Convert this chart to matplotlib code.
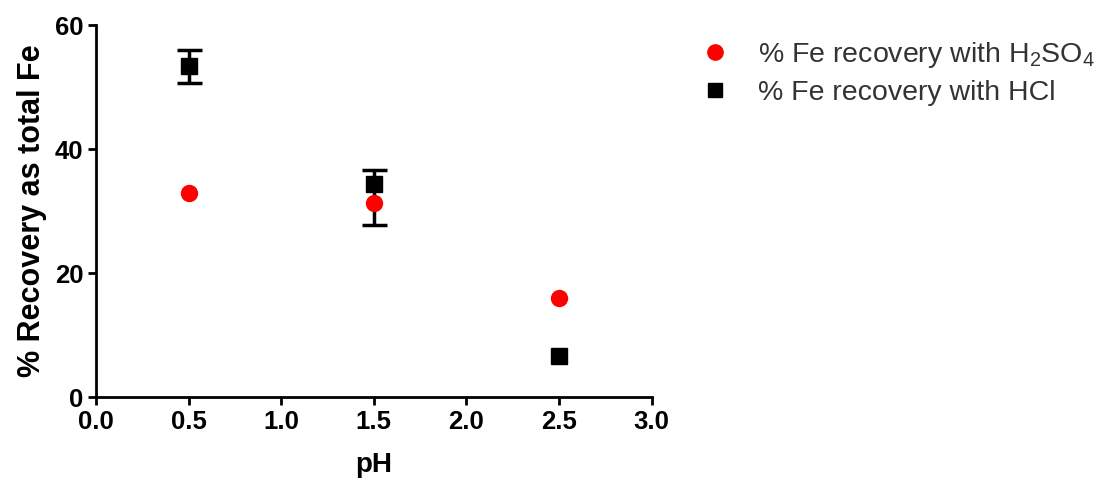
import matplotlib
matplotlib.use("Agg")
import matplotlib.pyplot as plt
from matplotlib.lines import Line2D

plt.rcParams['font.family'] = ['Liberation Sans', 'DejaVu Sans']
plt.rcParams['mathtext.fontset'] = 'custom'
plt.rcParams['mathtext.rm'] = 'Liberation Sans'
plt.rcParams['mathtext.it'] = 'Liberation Sans'

ph = [0.5, 1.5, 2.5]
h2so4 = [32.9, 31.3, 16.0]
hcl = [53.4, 34.3, 6.6]
hcl_err_lo = [2.7, 6.6, 0.0]
hcl_err_hi = [2.6, 2.3, 0.0]

fig = plt.figure(figsize=(11.12, 4.82), dpi=100)
ax = fig.add_axes([0.0863, 0.176, 0.4997, 0.772])

# error bars only where there is a spread
ex = [p for p, lo, hi in zip(ph, hcl_err_lo, hcl_err_hi) if lo + hi > 0]
ey = [v for v, lo, hi in zip(hcl, hcl_err_lo, hcl_err_hi) if lo + hi > 0]
elo = [lo for lo, hi in zip(hcl_err_lo, hcl_err_hi) if lo + hi > 0]
ehi = [hi for lo, hi in zip(hcl_err_lo, hcl_err_hi) if lo + hi > 0]
ax.errorbar(ex, ey, yerr=[elo, ehi], fmt='none', ecolor='black',
            elinewidth=2.5, capsize=9, capthick=2.5, zorder=2)
ax.plot(ph, hcl, 's', color='black', ms=11, zorder=2)
ax.plot(ph, h2so4, 'o', color='#ff0000', ms=11.5, zorder=3)

ax.set_xlim(0, 3.0)
ax.set_ylim(0, 60)
ax.set_xticks([0.0, 0.5, 1.0, 1.5, 2.0, 2.5, 3.0])
ax.set_xticklabels(['0.0', '0.5', '1.0', '1.5', '2.0', '2.5', '3.0'])
ax.set_yticks([0, 20, 40, 60])
ax.spines['top'].set_visible(False)
ax.spines['right'].set_visible(False)
for s in ['left', 'bottom']:
    ax.spines[s].set_linewidth(2)
ax.tick_params(width=2, length=6, labelsize=18.5, pad=3)
for lab in ax.get_xticklabels() + ax.get_yticklabels():
    lab.set_fontweight('bold')
ax.set_xlabel('pH', fontsize=20, fontweight='bold', labelpad=13)
ax.set_ylabel('% Recovery as total Fe', fontsize=22, fontweight='bold', labelpad=6)

handles = [Line2D([], [], ls='none', marker='o', color='#ff0000', ms=11),
           Line2D([], [], ls='none', marker='s', color='black', ms=10)]
labels = ['% Fe recovery with H$_2$SO$_4$', '% Fe recovery with HCl']
leg = fig.legend(handles, labels, loc='upper left',
                 bbox_to_anchor=(0.605, 0.97), frameon=False, fontsize=20.5,
                 handletextpad=0.9, labelspacing=0.35, handlelength=1.2)
for t in leg.get_texts():
    t.set_color('#333333')

fig.savefig('out.png', dpi=100)
